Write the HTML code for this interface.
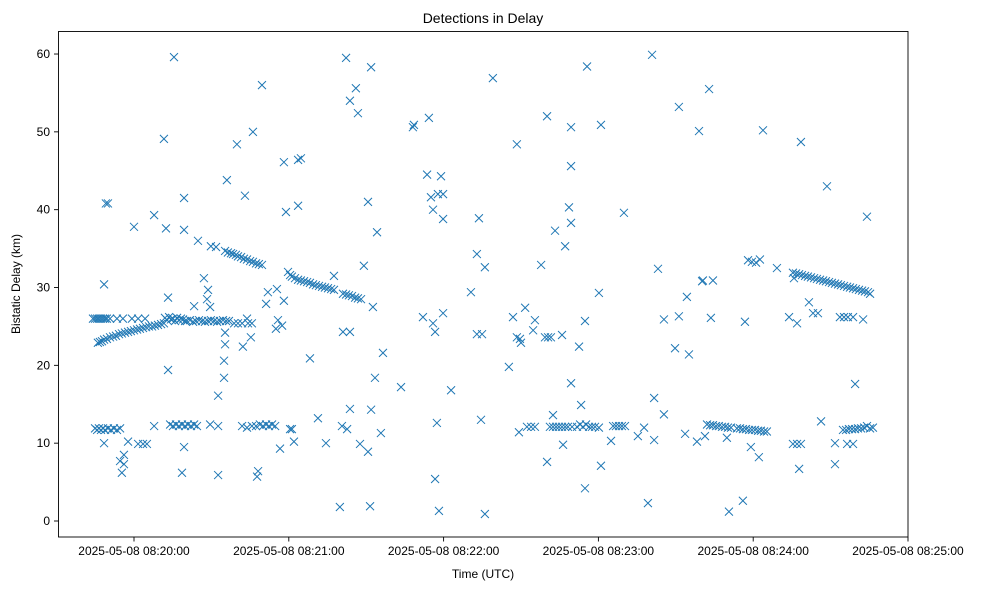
<!DOCTYPE html>
<html><head><meta charset="utf-8"><style>
body{margin:0;background:#fff;}
svg{display:block;font-family:"Liberation Sans","DejaVu Sans",sans-serif;}
</style></head><body>
<svg id="chart" width="989" height="590" viewBox="0 0 989 590" xmlns="http://www.w3.org/2000/svg">
<rect width="989" height="590" fill="#fff"/>
<text x="483" y="23" font-size="14" text-anchor="middle">Detections in Delay</text>
<text x="483" y="578" font-size="12" text-anchor="middle">Time (UTC)</text>
<text x="20" y="284" font-size="12" text-anchor="middle" transform="rotate(-90 20 284)">Bistatic Delay (km)</text>
<g id="marks"></g>
<g id="axes"></g>
<rect x="58.5" y="31.5" width="849.5" height="505.5" fill="none" stroke="#000" stroke-width="0.9"/>
</svg>
<script>
// seconds after 08:20:00 UTC
const times = [15.5,49.6,11.6,39.9,46.1,58.1,36.0,43.0,58.9,-10.1,-10.9,19.4,0,7.8,12.4,19.4,24.8,29.8,31.8,
35.3,36.4,37.6,38.4,39.5,40.3,41.5,42.6,43.8,45.0,46.1,47.3,48.4,49.6,
59.7,60.5,61.2,62.4,63.6,64.7,65.9,67.1,68.2,69.4,70.5,71.7,72.9,74.0,75.2,76.4,77.5,
81.0,82.2,83.3,84.5,85.7,86.8,88.0,
-15.9,-15.1,-14.3,-13.6,-12.8,-12.0,-11.2,-10.5,-9.3,-6.6,-4.3,-0.8,1.6,4.3,
-14.0,-13.2,-12.4,-11.6,-10.5,-9.3,-8.1,-7.0,-5.8,-4.7,-3.5,-2.3,-1.2,0,1.2,2.3,3.5,4.7,5.8,7.0,8.1,9.3,10.5,11.6,
12.0,12.8,13.6,14.3,15.1,15.9,16.7,17.4,18.2,19.0,19.8,
20.5,21.7,22.9,24.0,25.2,26.4,27.5,28.7,29.8,31.0,32.2,33.3,34.5,35.7,36.8,
38.8,40.3,41.9,44.2,45.7,
-15.1,-14.3,-13.6,-12.8,-12.0,-11.2,-10.1,-8.9,-7.8,-6.6,-5.4,
7.8,14.0,15.1,16.3,17.4,18.6,19.8,20.9,22.1,23.3,24.4,29.5,32.6,
41.9,43.8,45.7,47.3,48.8,50.0,51.2,52.3,53.5,54.7,
-11.6,-2.3,1.6,3.5,5.0,19.4,-5.4,-3.9,-3.9,-4.7,18.6,32.6,48.1,47.7,56.6,60.5,
-11.6,13.2,13.2,27.1,28.7,28.3,29.5,23.3,35.3,35.3,34.9,34.9,32.6,42.2,45.3,43.8,51.9,55.4,51.2,58.1,55.8,55.0,57.4,
82.2,91.9,86.0,83.7,86.8,108.1,108.5,114.3,139.1,63.6,64.7,63.6,90.7,94.2,113.6,119.0,115.1,117.8,119.8,115.9,119.8,133.7,132.9,136.0,130.6,89.1,77.5,92.6,81.0,83.7,68.2,96.5,112.0,115.9,116.7,119.8,132.9,134.9,93.4,103.5,122.9,83.7,91.9,71.3,61.2,80.6,82.6,95.7,62.0,74.4,87.6,90.7,117.4,134.5,116.7,79.8,91.5,118.2,136.0,
200.8,175.6,211.2,219.0,160.1,169.4,181.0,148.4,169.4,168.6,169.4,163.2,189.9,167.1,157.8,203.1,220.2,214.3,180.2,151.6,146.9,155.4,154.7,148.4,149.6,150.0,159.3,160.5,161.6,165.9,174.8,172.5,205.4,211.2,209.7,215.1,145.3,169.4,173.3,201.6,205.4,162.4,149.2,152.3,153.9,155.4,
161.2,162.4,163.6,164.7,165.9,167.1,168.2,169.8,171.7,172.9,174.0,175.2,176.4,177.5,178.7,180.2,185.7,186.8,188.0,189.1,190.3,197.7,195.3,184.9,166.3,201.6,213.6,218.2,160.1,181.0,174.8,199.2,
222.9,243.8,258.5,268.6,284.1,238.0,239.5,241.1,242.6,249.2,220.5,224.4,223.6,236.8,253.9,257.0,261.6,263.2,265.1,273.6,275.2,276.7,278.7,282.6,
255.4,256.6,257.8,258.9,260.1,261.2,262.4,263.6,264.7,265.9,267.1,268.2,269.4,270.5,271.7,272.9,274.0,275.2,276.4,277.5,278.7,279.8,281.0,282.2,283.3,284.5,285.3,255.8,
222.1,223.3,224.4,225.6,226.7,227.9,229.1,230.2,231.4,233.7,234.9,236.0,237.2,238.4,239.5,240.7,241.9,243.0,244.2,245.3,
221.3,229.8,239.1,242.2,255.4,257.0,258.5,257.8,266.3,271.7,271.7,276.4,278.7,279.5,
274.8,276.0,277.1,278.3,279.5,280.6,281.8,283.0,284.1,285.3,286.4,236.0,230.6];
const delays = [59.6,56.0,49.1,48.4,50.0,46.1,43.8,41.8,39.7,40.8,40.8,41.5,37.8,39.3,37.6,37.4,36.0,35.3,35.2,
34.7,34.5,34.4,34.3,34.2,34.0,33.9,33.7,33.6,33.4,33.3,33.1,33.0,32.9,
32.0,31.6,31.4,31.2,31.0,30.9,30.8,30.7,30.6,30.4,30.3,30.2,30.1,30.0,29.9,29.8,29.7,
29.2,29.1,29.0,28.9,28.7,28.6,28.5,
26.0,26.0,26.0,26.0,26.0,26.0,26.0,26.0,26.0,26.0,26.0,26.0,26.0,26.0,
22.9,23.0,23.1,23.3,23.4,23.6,23.7,23.8,24.0,24.1,24.2,24.3,24.4,24.5,24.6,24.7,24.8,24.9,25.0,25.0,25.1,25.2,25.3,25.4,
26.1,25.8,26.2,25.9,26.0,25.7,26.1,25.8,26.0,25.9,25.7,
25.7,25.8,25.6,25.7,25.8,25.7,25.6,25.7,25.8,25.7,25.6,25.7,25.8,25.7,25.7,
25.4,25.4,25.4,25.4,25.4,
11.9,11.7,11.9,11.7,11.9,11.7,11.9,11.7,11.9,11.7,11.9,
12.2,12.4,12.2,12.4,12.2,12.4,12.2,12.4,12.2,12.4,12.2,12.4,12.2,
12.2,12.0,12.2,12.2,12.4,12.2,12.4,12.2,12.4,12.2,
10.0,10.2,9.9,9.9,9.9,9.5,7.7,8.5,7.3,6.2,6.2,5.9,6.4,5.7,9.3,11.8,
30.4,28.7,19.4,31.2,29.7,28.5,27.5,27.6,24.2,22.7,20.6,18.4,16.1,22.4,23.6,26.0,29.4,29.8,27.9,28.3,25.8,24.7,25.1,
59.5,58.3,55.6,54.0,52.4,50.6,50.9,51.8,56.9,46.4,46.6,40.5,41.0,37.1,44.5,44.3,41.6,42.0,42.0,40.0,38.8,38.9,34.3,32.6,29.4,32.8,31.5,27.5,24.3,24.3,20.9,21.6,26.2,25.4,24.3,26.7,24.0,24.0,18.4,17.2,16.8,14.4,14.3,13.2,11.8,12.2,11.8,11.3,10.2,10.0,9.9,8.9,12.6,13.0,5.4,1.8,1.9,1.3,0.9,
59.9,58.4,53.2,50.1,52.0,50.6,50.9,48.4,45.6,40.3,38.3,37.3,39.6,35.3,32.9,32.4,30.8,28.8,29.3,27.4,26.2,25.8,24.5,23.6,23.4,22.9,23.6,23.6,23.6,23.9,25.7,22.4,25.9,26.3,22.2,21.4,19.8,17.7,14.9,15.8,13.7,13.6,11.4,12.1,12.1,12.1,
12.1,12.1,12.1,12.1,12.1,12.1,12.1,12.1,12.1,12.4,12.1,12.4,12.1,12.1,12.1,12.0,12.2,12.2,12.2,12.2,12.2,12.0,10.9,10.3,9.8,10.4,11.2,10.2,7.6,7.1,4.2,2.3,
55.5,50.2,48.7,43.0,39.1,33.5,33.3,33.2,33.6,32.5,30.9,30.9,26.1,25.6,26.2,25.4,28.1,26.7,26.7,26.2,26.2,26.2,26.2,25.9,
31.9,31.8,31.7,31.6,31.5,31.4,31.3,31.2,31.1,31.0,30.9,30.8,30.7,30.6,30.5,30.4,30.3,30.2,30.1,30.0,29.9,29.8,29.7,29.6,29.5,29.4,29.2,31.2,
12.4,12.3,12.3,12.2,12.2,12.1,12.1,12.0,12.0,11.9,11.9,11.8,11.8,11.7,11.7,11.7,11.6,11.6,11.5,11.5,
10.9,10.7,9.5,8.2,9.9,9.9,9.9,6.7,12.8,10.0,7.3,9.9,9.9,17.6,
11.7,11.7,11.8,11.8,11.8,11.9,11.9,12.0,12.2,11.9,12.0,2.6,1.2];
const yTicks = [0,10,20,30,40,50,60];
const xTicks = [0,60,120,180,240,300];
const xTickLabels = ["2025-05-08 08:20:00","2025-05-08 08:21:00","2025-05-08 08:22:00","2025-05-08 08:23:00","2025-05-08 08:24:00","2025-05-08 08:25:00"];

const NS="http://www.w3.org/2000/svg";
const xScale = t => 134 + t*2.58;
const yScale = v => 521 - v*7.783;
const marks=document.getElementById('marks');
const axes=document.getElementById('axes');
function mk(tag,attrs,parent){const e=document.createElementNS(NS,tag);for(const k in attrs)e.setAttribute(k,attrs[k]);parent.appendChild(e);return e;}
for(let i=0;i<times.length;i++){
  const cx=xScale(times[i]), cy=yScale(delays[i]), r=4;
  const p=mk('path',{d:`M${cx-r},${cy-r}L${cx+r},${cy+r}M${cx-r},${cy+r}L${cx+r},${cy-r}`,stroke:'#1f77b4','stroke-width':1,fill:'none'},marks);
  
  
}
yTicks.forEach(v=>{
  const y=yScale(v);
  const l=mk('line',{x1:58.5,x2:54,y1:y,y2:y,stroke:'#000','stroke-width':0.9},axes);
  
  
  const t=mk('text',{x:50,y:y+4,'font-size':12,'text-anchor':'end'},axes);
  t.textContent=v;
  
  
});
xTicks.forEach((s,i)=>{
  const x=xScale(s);
  const l=mk('line',{x1:x,x2:x,y1:537,y2:541.5,stroke:'#000','stroke-width':0.9},axes);
  
  
  const t=mk('text',{x:x,y:555,'font-size':12,'text-anchor':'middle'},axes);
  t.textContent=xTickLabels[i];
  
  
});
</script>
</body></html>
